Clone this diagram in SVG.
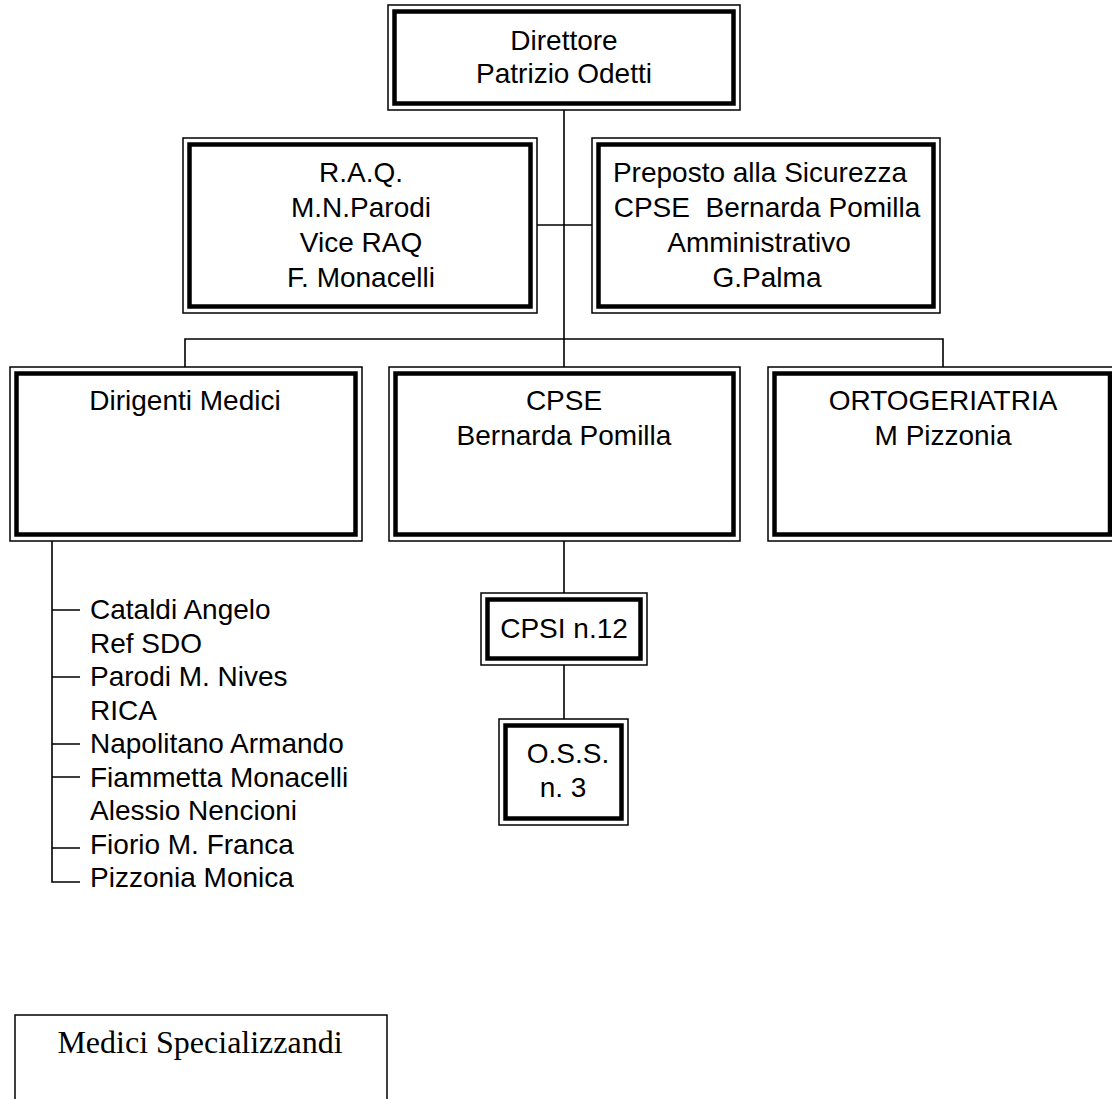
<svg xmlns="http://www.w3.org/2000/svg" width="1112" height="1099" viewBox="0 0 1112 1099">
<style>
.o{fill:#fff;stroke:#000;stroke-width:1.5}
.i{fill:none;stroke:#000;stroke-width:4.5}
.t{font-family:"Liberation Sans",Arial,sans-serif;font-size:28px;fill:#000;text-anchor:middle;white-space:pre}
.l{font-family:"Liberation Sans",Arial,sans-serif;font-size:28px;fill:#000}
.s{font-family:"Liberation Serif","Times New Roman",serif;font-size:32px;fill:#000;text-anchor:middle}
.c{fill:none;stroke:#000;stroke-width:1.6}
</style>
<rect width="1112" height="1099" fill="#fff"/>
<g id="connectors">
<path class="c" d="M564 110V367M537 225H592M185 367V339H943V367M564 541V593M564 665V719"/>
<path class="c" d="M52 541V882H80M52 610H80M52 677H80M52 744H80M52 777H80M52 848H80"/>
</g>
<g id="direttore">
<rect class="o" x="388" y="5" width="352" height="105"/>
<rect class="i" x="394.5" y="11.5" width="339" height="92"/>
<text class="t" x="564" y="50">Direttore</text>
<text class="t" x="564" y="83">Patrizio Odetti</text>
</g>
<g id="raq">
<rect class="o" x="183" y="138" width="354" height="175"/>
<rect class="i" x="189.5" y="144.5" width="341" height="162"/>
<text class="t" x="361" y="182">R.A.Q.</text>
<text class="t" x="361" y="217">M.N.Parodi</text>
<text class="t" x="361" y="252">Vice RAQ</text>
<text class="t" x="361" y="287">F. Monacelli</text>
</g>
<g id="preposto">
<rect class="o" x="592" y="138" width="348" height="175"/>
<rect class="i" x="598.5" y="144.5" width="335" height="162"/>
<text class="t" x="760" y="182">Preposto alla Sicurezza</text>
<text class="t" x="767" y="217">CPSE  Bernarda Pomilla</text>
<text class="t" x="759" y="252">Amministrativo</text>
<text class="t" x="767" y="287">G.Palma</text>
</g>
<g id="dirigenti">
<rect class="o" x="10" y="367" width="352" height="174"/>
<rect class="i" x="16.5" y="373.5" width="339" height="161"/>
<text class="t" x="185" y="410">Dirigenti Medici</text>
</g>
<g id="cpse">
<rect class="o" x="389" y="367" width="351" height="174"/>
<rect class="i" x="395.5" y="373.5" width="338" height="161"/>
<text class="t" x="564" y="410">CPSE</text>
<text class="t" x="564" y="445">Bernarda Pomilla</text>
</g>
<g id="ortogeriatria">
<rect class="o" x="768" y="367" width="348.5" height="174"/>
<rect class="i" x="774.5" y="373.5" width="335.5" height="161"/>
<text class="t" x="943" y="410">ORTOGERIATRIA</text>
<text class="t" x="943" y="445">M Pizzonia</text>
</g>
<g id="cpsi">
<rect class="o" x="481" y="593" width="166" height="72"/>
<rect class="i" x="487.5" y="599.5" width="153" height="59"/>
<text class="t" x="564" y="638">CPSI n.12</text>
</g>
<g id="oss">
<rect class="o" x="499" y="719" width="129" height="106"/>
<rect class="i" x="505.5" y="725.5" width="116" height="93"/>
<text class="t" x="568" y="763">O.S.S.</text>
<text class="t" x="563" y="797">n. 3</text>
</g>
<g id="elenco-medici">
<text class="l" x="90" y="619">Cataldi Angelo</text>
<text class="l" x="90" y="652.5">Ref SDO</text>
<text class="l" x="90" y="686">Parodi M. Nives</text>
<text class="l" x="90" y="719.5">RICA</text>
<text class="l" x="90" y="753">Napolitano Armando</text>
<text class="l" x="90" y="786.5">Fiammetta Monacelli</text>
<text class="l" x="90" y="820">Alessio Nencioni</text>
<text class="l" x="90" y="853.5">Fiorio M. Franca</text>
<text class="l" x="90" y="887">Pizzonia Monica</text>
</g>
<g id="specializzandi">
<rect class="o" x="15" y="1015" width="372" height="100"/>
<text class="s" x="200" y="1053">Medici Specializzandi</text>
</g>
</svg>
